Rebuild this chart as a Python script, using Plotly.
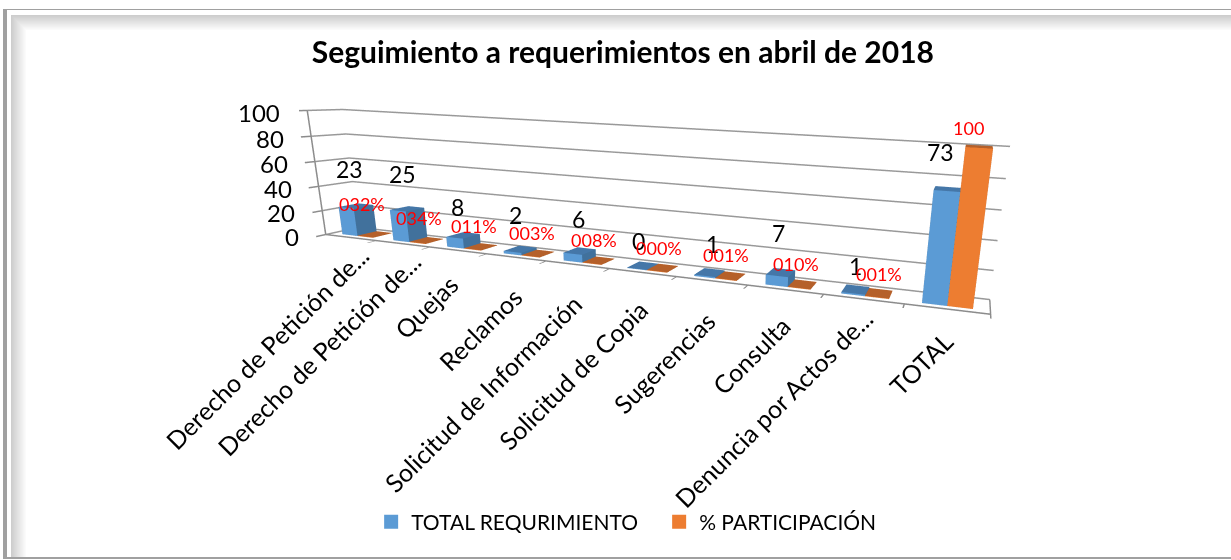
import plotly.graph_objects as go

W, H = 1231, 560
categories = ["Derecho de Petición de...", "Derecho de Petición de...", "Quejas", "Reclamos",
              "Solicitud de Información", "Solicitud de Copia", "Sugerencias", "Consulta",
              "Denuncia por Actos de...", "TOTAL"]
total_req = [23, 25, 8, 2, 6, 0, 1, 7, 1, 73]
participacion = [0.32, 0.34, 0.11, 0.03, 0.08, 0.0, 0.01, 0.10, 0.01, 100]
pct_labels = ["032%", "034%", "011%", "003%", "008%", "000%", "001%", "010%", "001%", "100"]
z_ticks = [0, 20, 40, 60, 80, 100]
title = "Seguimiento a requerimientos en abril de 2018"
FONT = "Lato"

# hand-placed label nudges (pixels) seen in the original
req_dx = [-7, -5, -6, -5, -1, -5, 3, -2, 0, -7]
req_dy = [37, 35, 28, 34, 32, 25, 28, 39, 23, 37]
pct_dx = [-13, -7, -7, -6, -5, -4, -4, -6, 0, -11]
pct_dy = [30, 22, 21, 21, 21, 20, 21, 21, 20, 19]
cat_dx = [26, 26, 8, 14, 13, 13, 12, 14, 18, 15]
cat_dy = [0, 0, -16, -21, -21, -19, -22, -18, -1, -14]


def box(x0, x1, y0, y1, h, front, side, top):
    xs = [x0, x1, x1, x0, x0, x1, x1, x0]
    ys = [y0, y0, y1, y1, y0, y0, y1, y1]
    zs = [0, 0, 0, 0, h, h, h, h]
    i = [0, 0, 1, 1, 4, 4, 3, 3, 0, 0, 2, 2]
    j = [1, 5, 2, 6, 5, 6, 2, 7, 3, 7, 1, 5]
    k = [5, 4, 6, 5, 6, 7, 7, 6, 7, 4, 0, 4]
    cols = [front, front, side, side, top, top, side, side, side, side, side, side]
    return go.Mesh3d(x=xs, y=ys, z=zs, i=i, j=j, k=k, facecolor=cols, flatshading=True,
                     lighting=dict(ambient=1, diffuse=0, specular=0, roughness=1, fresnel=0),
                     hoverinfo="skip", showlegend=False, showscale=False)


fig = go.Figure()
Y0, Y1 = 0.2, 0.8
for n, (a, b) in enumerate(zip(total_req, participacion)):
    fig.add_trace(box(n + 0.2, n + 0.5, Y0, Y1, max(a, 0.3), "#5B9BD5", "#41719C", "#4577A8"))
    fig.add_trace(box(n + 0.5, n + 0.8, Y0, Y1, max(b, 0.3), "#ED7D31", "#AE5A21", "#B5602A"))

fig.add_trace(go.Scatter3d(x=[None], y=[None], z=[None], mode="markers", name="TOTAL REQURIMIENTO",
                           marker=dict(symbol="square", size=14, color="#5B9BD5")))
fig.add_trace(go.Scatter3d(x=[None], y=[None], z=[None], mode="markers", name="% PARTICIPACIÓN",
                           marker=dict(symbol="square", size=14, color="#ED7D31")))

ann = []
for v in z_ticks:
    ann.append(dict(x=0, y=0, z=v, text=str(v), showarrow=False, xanchor="right", yanchor="middle",
                    xshift=-25, yshift=-2, font=dict(size=24, color="#000", family=FONT)))
for n, c in enumerate(categories):
    ann.append(dict(x=n + 0.5, y=0, z=0, text=c, showarrow=False, textangle=-45, xanchor="right",
                    yanchor="top", xshift=cat_dx[n], yshift=cat_dy[n], font=dict(size=25, color="#000", family=FONT)))
for n, v in enumerate(total_req):
    ann.append(dict(x=n + 0.35, y=0.5, z=v, text=str(v), showarrow=False, xshift=req_dx[n], yshift=req_dy[n],
                    font=dict(size=23, color="#000", family=FONT)))
for n, v in enumerate(participacion):
    ann.append(dict(x=n + 0.65, y=0.5, z=v, text=pct_labels[n], showarrow=False, xshift=pct_dx[n], yshift=pct_dy[n],
                    font=dict(size=18, color="#FF0000", family=FONT)))

shapes = []


def rect(x0, y0, x1, y1, fill):
    shapes.append(dict(type="rect", xref="paper", yref="paper", x0=x0 / W, x1=x1 / W,
                       y0=1 - y0 / H, y1=1 - y1 / H, fillcolor=fill, line=dict(width=0), layer="below"))


rect(3, 9, W, 559, "#A0A0A0")
rect(7, 10, W, 557, "#FFFFFF")
for s in range(16):
    g = 205 + int(50 * s / 15)
    rect(11 + s, 15 + s, W, 557, f"rgb({g},{g},{g})")

axis = dict(showbackground=False, showspikes=False, title=dict(text=""), showticklabels=False,
            zeroline=False, showline=True, linecolor="#8C8C8C", linewidth=3)
PX = 765
fig.update_layout(
    width=W, height=H, margin=dict(l=0, r=0, t=0, b=0), paper_bgcolor="#FFFFFF",
    title=dict(text=f"<b>{title}</b>", x=0.506, xanchor="center", y=1 - 52 / H, yanchor="middle",
               font=dict(size=30, color="#000", family=FONT)),
    legend=dict(orientation="h", x=0.3015, y=1 - 522 / H, yanchor="middle", xanchor="left",
                font=dict(size=21, color="#000", family=FONT), bgcolor="rgba(0,0,0,0)",
                entrywidth=243, entrywidthmode="pixels", itemwidth=30),
    shapes=shapes,
    scene=dict(
        domain=dict(x=[(2 * PX - W) / W, 1], y=[0, 1]),
        aspectmode="manual", aspectratio=dict(x=1.8186, y=0.1112, z=0.3449),
        camera=dict(eye=dict(x=0.8312, y=-1.5073, z=0.2806), center=dict(x=0.3576, y=0.1063, z=-0.2036),
                    up=dict(x=-0.1118, y=0.2554, z=0.9604), projection=dict(type="perspective")),
        xaxis=dict(axis, range=[0, 10], tickvals=list(range(11)), ticks="outside", ticklen=16, tickwidth=3,
                   tickcolor="#8C8C8C", showgrid=False),
        yaxis=dict(axis, range=[0, 1], tickvals=[0, 1], ticks="", showgrid=False),
        zaxis=dict(axis, range=[0, 100], tickvals=z_ticks, ticks="outside", ticklen=16, tickwidth=3,
                   tickcolor="#8C8C8C", showgrid=True, gridcolor="#999999", gridwidth=3),
        annotations=ann,
    ),
)
fig.write_html("out.html", config=dict(displayModeBar=False),
               post_script="document.body.style.margin='0';")
